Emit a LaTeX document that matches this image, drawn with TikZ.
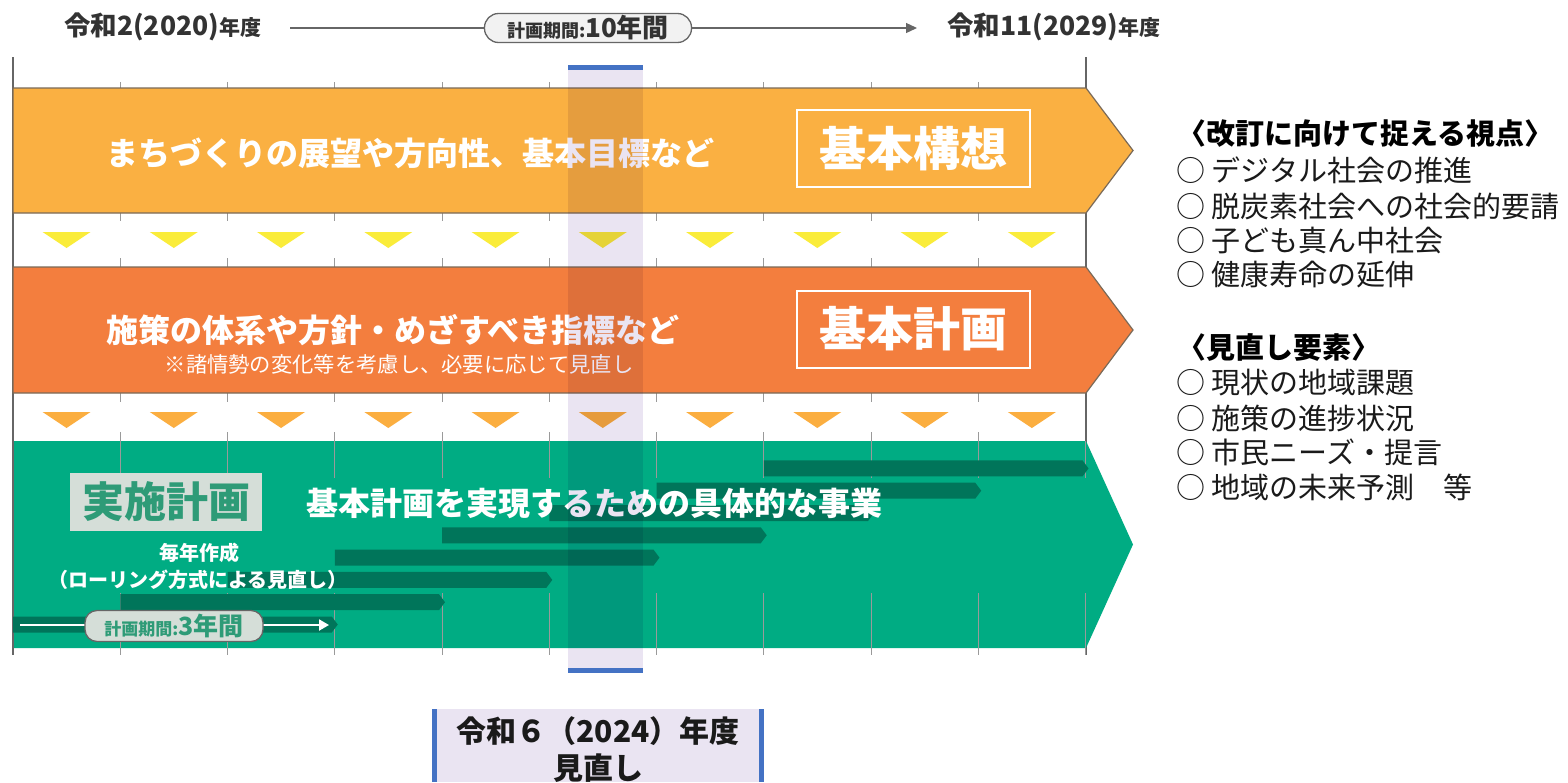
\documentclass[tikz,border=0pt]{standalone}
\usepackage{fontspec}
\newfontfamily\jp{Noto Sans CJK JP}
\usetikzlibrary{arrows.meta}
\definecolor{bandA}{HTML}{FAB042}
\definecolor{bandB}{HTML}{F37E3E}
\definecolor{bandC}{HTML}{00AC83}
\definecolor{darkg}{HTML}{00755A}
\definecolor{edgec}{HTML}{7A6A58}
\definecolor{triY}{HTML}{FAEC3A}
\definecolor{triO}{HTML}{FBAE40}
\definecolor{lav}{HTML}{EAE4F2}
\definecolor{blueb}{HTML}{4472C4}
\definecolor{tickc}{HTML}{9A9A9A}
\definecolor{axisc}{HTML}{666666}
\definecolor{hdr}{HTML}{333333}
\definecolor{boxg}{HTML}{D5DED8}
\definecolor{greent}{HTML}{2E9B77}
\definecolor{pillc}{HTML}{F2F2F2}
\definecolor{txtc}{HTML}{1A1A1A}
\newcommand\fsz[1]{\fontsize{#1}{#1}\selectfont}
\tikzset{
  bandbox/.style={line width=1.2pt, draw=edgec},
  tickline/.style={draw=tickc, line width=1pt},
  axisline/.style={draw=axisc, line width=1.5pt},
  whitebig/.style={text=white, font=\jp\bfseries\fsz{32}, inner sep=0pt},
  labelbox/.style={draw=white, line width=2pt, minimum width=233pt, minimum height=77pt, text=white, font=\jp\bfseries\fsz{47}, inner sep=0pt},
  rtext/.style={anchor=west, inner sep=0pt, text=txtc, font=\jp\fsz{29}},
  rhead/.style={anchor=west, inner sep=0pt, text=black, font=\jp\bfseries\fsz{29}},
  hdrtext/.style={anchor=west, inner sep=0pt, text=hdr, font=\jp\bfseries\fsz{26.5}},
}
\begin{document}
\begin{tikzpicture}[x=1pt,y=-1pt,font=\jp]
\useasboundingbox (0,0) rectangle (1568,782);
\fill[white] (0,0) rectangle (1568,782);

% header
\node[hdrtext] (hL) at (64,27) {令和2(2020){\fsz{21}年度}};
\node[hdrtext] (hR) at (947,27) {令和11(2029){\fsz{21}年度}};
\node[draw=axisc, line width=1.3pt, fill=pillc, rounded corners=14pt, minimum width=207pt, minimum height=29pt, inner sep=0pt, text=hdr, font=\jp\bfseries] (p10) at (588,28) {{\fsz{18}計画期間:}{\fsz{26}10年間}};
\coordinate (hl) at (290,28);
\coordinate (hr) at (917,28);
\draw[draw=axisc, line width=1.3pt] (hl) -- (p10.west);
\draw[draw=axisc, line width=1.3pt, -{Triangle[length=11pt,width=10pt]}] (p10.east) -- (hr);

% axes
\draw[axisline] (13,57) -- (13,655);
\draw[axisline] (1086,57) -- (1086,655);
\foreach \k in {1,...,9}{
  \pgfmathsetmacro\X{13+107.25*\k}
  \draw[tickline] (\X,82) -- (\X,88);
  \draw[tickline] (\X,213) -- (\X,221);
  \draw[tickline] (\X,258) -- (\X,267);
  \draw[tickline] (\X,393) -- (\X,402);
  \draw[tickline] (\X,432) -- (\X,441);
}

% band 1
\path[bandbox, fill=bandA] (13,88) -- (1086,88) -- (1133,150.5) -- (1086,213) -- (13,213) -- cycle;
\node[whitebig] (t1) at (410,153) {まちづくりの展望や方向性、基本目標など};
\node[labelbox] (k1) at (913.5,148.5) {基本構想};

% triangles
\foreach \k in {0,...,9}{
  \pgfmathsetmacro\C{66.6+107.25*\k}
  \fill[triY] (\C-24,232) -- (\C+24,232) -- (\C,248) -- cycle;
  \fill[triO] (\C-24,412) -- (\C+24,412) -- (\C,428) -- cycle;
}

% band 2
\path[bandbox, fill=bandB] (13,267) -- (1086,267) -- (1133,330) -- (1086,393) -- (13,393) -- cycle;
\node[whitebig] (t2) at (393,330) {施策の体系や方針・めざすべき指標など};
\node[text=white, font=\jp\fsz{21.3}, inner sep=0pt] (t2s) at (399,364) {※諸情勢の変化等を考慮し、必要に応じて見直し};
\node[labelbox] (k2) at (913.5,329) {基本計画};

% band 3
\fill[bandC] (13,441) -- (1086,441) -- (1133,544.5) -- (1086,648) -- (13,648) -- cycle;
\draw[axisline] (13,441) -- (13,655);
\foreach \k in {1,...,10}{
  \pgfmathsetmacro\X{13+107.25*\k}
  \draw[tickline] (\X,441) -- (\X,478);
  \draw[tickline] (\X,593) -- (\X,655);
}
\foreach \k in {0,...,7}{
  \pgfmathsetmacro\xa{13+107.25*\k}
  \pgfmathsetmacro\xb{13+107.25*(\k+3)-3}
  \pgfmathsetmacro\yc{624.5-22.3*\k}
  \fill[darkg] (\xa,\yc-8) -- (\xb,\yc-8) -- (\xb+6,\yc) -- (\xb,\yc+8) -- (\xa,\yc+8) -- cycle;
}
\coordinate (w0) at (20,625);
\coordinate (w1) at (329,625);
\draw[white, line width=2pt, -{Triangle[length=10pt,width=11pt]}] (w0) -- (w1);
\node[draw=axisc, line width=1.3pt, fill=boxg, rounded corners=12pt, minimum width=178pt, minimum height=31pt, inner sep=0pt, text=greent, font=\jp\bfseries] (p3) at (174,626) {{\fsz{17}計画期間:}{\fsz{25}3年間}};

\node[fill=boxg, minimum width=192pt, minimum height=58pt, inner sep=0pt, text=greent, font=\jp\bfseries\fsz{42}] (k3) at (166,502) {実施計画};
\node[whitebig] (t3) at (594,503) {基本計画を実現するための具体的な事業};
\node[text=white, font=\jp\bfseries\fsz{20}, inner sep=0pt] (t3a) at (199,553) {毎年作成};
\node[text=white, font=\jp\bfseries\fsz{20}, inner sep=0pt] (t3b) at (198,580) {（ローリング方式による見直し）};

% review overlay
\begin{scope}[blend mode=multiply]
\fill[lav] (568,70) rectangle (643,668);
\end{scope}
\fill[blueb] (568,65) rectangle (643,70);
\fill[blueb] (568,668) rectangle (643,673);

% bottom label
\fill[lav] (432,709) rectangle (764,782);
\fill[blueb] (432,709) rectangle (437,782);
\fill[blueb] (759,709) rectangle (764,782);
\node[text=txtc, font=\jp\bfseries\fsz{30}, inner sep=0pt] (bl1) at (598,731) {令和６（2024）年度};
\node[text=txtc, font=\jp\bfseries\fsz{30}, inner sep=0pt] (bl2) at (598,768) {見直し};

% right text
\node[rhead] (r0) at (1177,134) {〈改訂に向けて捉える視点〉};
\node[rtext] (r1) at (1176,170) {○ デジタル社会の推進};
\node[rtext] (r2) at (1176,206) {○ 脱炭素社会への社会的要請};
\node[rtext] (r3) at (1176,241) {○ 子ども真ん中社会};
\node[rtext] (r4) at (1176,275) {○ 健康寿命の延伸};
\node[rhead] (s0) at (1177,348) {〈見直し要素〉};
\node[rtext] (s1) at (1176,383) {○ 現状の地域課題};
\node[rtext] (s2) at (1176,418) {○ 施策の進捗状況};
\node[rtext] (s3) at (1176,452) {○ 市民ニーズ・提言};
\node[rtext] (s4) at (1176,487) {○ 地域の未来予測　等};
\end{tikzpicture}
\end{document}
